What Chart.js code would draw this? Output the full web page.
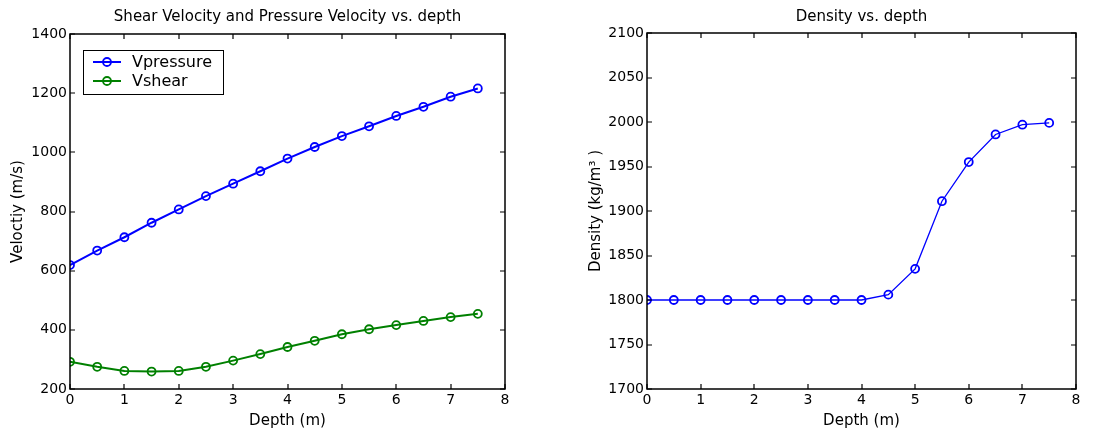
<!DOCTYPE html>
<html>
<head>
<meta charset="utf-8">
<script src="https://cdn.jsdelivr.net/npm/chart.js@4.4.1/dist/chart.umd.min.js"></script>
<style>
html,body{margin:0;padding:0;background:#fff;}
body{width:1099px;height:434px;position:relative;overflow:hidden;}
#w1{position:absolute;left:0;top:0;width:540px;height:434px;}
#w2{position:absolute;left:578px;top:0;width:521px;height:434px;}
</style>
</head>
<body>
<div id="w1"><canvas id="c1"></canvas></div>
<div id="w2"><canvas id="c2"></canvas></div>
<script>
const depth = [0,0.5,1,1.5,2,2.5,3,3.5,4,4.5,5,5.5,6,6.5,7,7.5];
const vPressure = [619,668,713,762,807,852,894,936,979,1018,1055,1088,1123,1154,1188,1216];
const vShear = [292,275,261,259,261,275,296,318,342,363,385,402,416,430,443,454];
const density = [1800,1800,1800,1800,1800,1800,1800,1800,1800,1806,1835,1911,1955,1986,1997,1999];
const xTicks = [0,1,2,3,4,5,6,7,8];
const velTicks = [200,400,600,800,1000,1200,1400];
const denTicks = [1700,1750,1800,1850,1900,1950,2000,2050,2100];

const FONT = "'DejaVu Sans', sans-serif";
Chart.defaults.font.family = FONT;
Chart.defaults.color = '#000';
Chart.defaults.animation = false;

function pts(ys){ return depth.map((x,i)=>({x:x,y:ys[i]})); }

const boxPlugin = {
  id:'matlabBox',
  afterDraw(chart, args, opts){
    const ctx = chart.ctx, a = chart.chartArea;
    const xs = chart.scales.x, ys = chart.scales.y;
    ctx.save();
    ctx.strokeStyle = '#000';
    ctx.lineWidth = 1.5;
    const l = Math.round(a.left), t = Math.round(a.top), r = Math.round(a.right), b = Math.round(a.bottom);
    ctx.strokeRect(l, t, r-l, b-t);
    const L = 5;
    ctx.lineWidth = 1.2;
    ctx.beginPath();
    xs.ticks.forEach(tk=>{
      const px = Math.round(xs.getPixelForValue(tk.value));
      ctx.moveTo(px,b); ctx.lineTo(px,b-L);
      ctx.moveTo(px,t); ctx.lineTo(px,t+L);
    });
    ys.ticks.forEach(tk=>{
      const py = Math.round(ys.getPixelForValue(tk.value));
      ctx.moveTo(l,py); ctx.lineTo(l+L,py);
      ctx.moveTo(r,py); ctx.lineTo(r-L,py);
    });
    ctx.stroke();
    if(opts && opts.title){
      ctx.fillStyle = '#000';
      ctx.font = "15px " + FONT;
      ctx.textAlign = 'center';
      ctx.textBaseline = 'middle';
      ctx.fillText(opts.title, (a.left+a.right)/2, opts.titleY);
    }
    ctx.restore();
  }
};

const legendPlugin = {
  id:'matlabLegend',
  afterDraw(chart, args, opts){
    if(!opts || !opts.show) return;
    const ctx = chart.ctx, a = chart.chartArea;
    const bx = a.left + 13, by = a.top + 16, bw = 140, bh = 44;
    ctx.save();
    ctx.fillStyle = '#fff';
    ctx.fillRect(bx,by,bw,bh);
    ctx.strokeStyle = '#000';
    ctx.lineWidth = 1;
    ctx.strokeRect(bx+0.5,by+0.5,bw,bh);
    ctx.font = "16px " + FONT;
    ctx.textBaseline = 'middle';
    chart.data.datasets.forEach((ds,i)=>{
      const cy = by + 12 + i*19;
      ctx.strokeStyle = ds.borderColor;
      ctx.lineWidth = 2;
      ctx.beginPath(); ctx.moveTo(bx+10,cy); ctx.lineTo(bx+38,cy); ctx.stroke();
      ctx.lineWidth = 1.8;
      ctx.beginPath(); ctx.arc(bx+24,cy,4,0,Math.PI*2); ctx.stroke();
      ctx.fillStyle = '#000';
      ctx.fillText(ds.label, bx+49, cy+1);
    });
    ctx.restore();
  }
};

function makeOpts(title, yTitle, yMin, yMax, yTickList, showLegend, yWidth, padRight, padTop){
  return {
    responsive:true,
    maintainAspectRatio:false,
    animation:false,
    layout:{padding:{top:padTop,right:padRight,bottom:0,left:0}},
    plugins:{
      legend:{display:false},
      tooltip:{enabled:false},
      title:{display:false},
      matlabLegend:{show:showLegend},
      matlabBox:{title:title,titleY:17}
    },
    scales:{
      x:{
        type:'linear', min:0, max:8,
        afterBuildTicks(s){ s.ticks = xTicks.map(v=>({value:v})); },
        ticks:{font:{size:14},color:'#000',padding:3,maxRotation:0,autoSkip:false,callback:(v)=>String(v)},
        grid:{display:false,drawTicks:false},
        border:{display:false},
        title:{display:true,text:'Depth (m)',font:{size:15},color:'#000',padding:{top:0,bottom:4}},
        afterFit(s){ s.height = 45; }
      },
      y:{
        type:'linear', min:yMin, max:yMax,
        afterBuildTicks(s){ s.ticks = yTickList.map(v=>({value:v})); },
        ticks:{font:{size:14},color:'#000',padding:3,autoSkip:false,callback:(v)=>String(v)},
        grid:{display:false,drawTicks:false},
        border:{display:false},
        title:{display:true,text:yTitle,font:{size:15},color:'#000',padding:{top:9,bottom:0}},
        afterFit(s){ s.width = yWidth; }
      }
    }
  };
}

new Chart(document.getElementById('c1'),{
  type:'line',
  data:{datasets:[
    {label:'Vpressure',data:pts(vPressure),borderColor:'#0000ff',borderWidth:2,pointStyle:'circle',pointRadius:4,pointBorderWidth:1.8,pointBackgroundColor:'rgba(0,0,0,0)',pointBorderColor:'#0000ff',tension:0,fill:false},
    {label:'Vshear',data:pts(vShear),borderColor:'#008000',borderWidth:2,pointStyle:'circle',pointRadius:4,pointBorderWidth:1.8,pointBackgroundColor:'rgba(0,0,0,0)',pointBorderColor:'#008000',tension:0,fill:false}
  ]},
  options:makeOpts('Shear Velocity and Pressure Velocity vs. depth','Veloctiy (m/s)',200,1400,velTicks,true,70,35,34),
  plugins:[boxPlugin,legendPlugin]
});

new Chart(document.getElementById('c2'),{
  type:'line',
  data:{datasets:[
    {label:'Density',data:pts(density),borderColor:'#0000ff',borderWidth:1.3,pointStyle:'circle',pointRadius:4,pointBorderWidth:1.8,pointBackgroundColor:'rgba(0,0,0,0)',pointBorderColor:'#0000ff',tension:0,fill:false}
  ]},
  options:makeOpts('Density vs. depth','Density (kg/m³ )',1700,2100,denTicks,false,69,23,33),
  plugins:[boxPlugin,legendPlugin]
});
</script>
</body>
</html>
